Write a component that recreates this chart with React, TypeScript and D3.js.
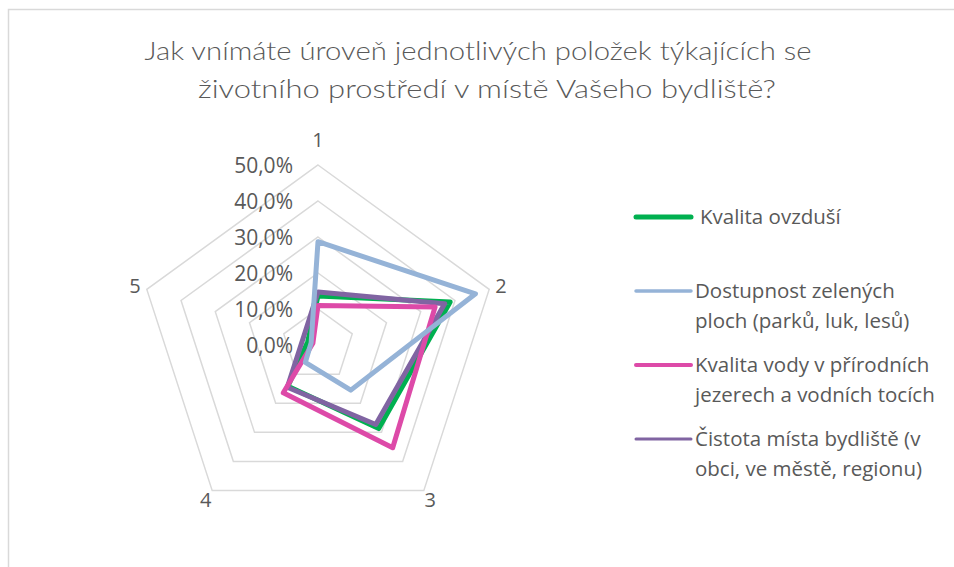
import React from "react";
import * as d3 from "d3";

const axes = ["1", "2", "3", "4", "5"];
const ticks = [0, 0.1, 0.2, 0.3, 0.4, 0.5];

const kvalitaOvzdusi = [0.136, 0.386, 0.287, 0.142, 0.03];
const dostupnostZelene = [0.287, 0.46, 0.155, 0.06, 0.02];
const kvalitaVody = [0.11, 0.342, 0.353, 0.164, 0.015];
const cistotaMista = [0.147, 0.37, 0.273, 0.145, 0.045];

const series = [
  { name: ["Kvalita ovzduší"], values: kvalitaOvzdusi, color: "#00b050", legendWidth: 5 },
  { name: ["Dostupnost zelených", "ploch (parků, luk, lesů)"], values: dostupnostZelene, color: "#95b3d7", legendWidth: 3.5 },
  { name: ["Kvalita vody v přírodních", "jezerech a vodních tocích"], values: kvalitaVody, color: "#dd4aa8", legendWidth: 4 },
  { name: ["Čistota místa bydliště (v", "obci, ve městě, regionu)"], values: cistotaMista, color: "#8064a2", legendWidth: 3 },
];
// draw order (blue sits on top in the original)
const drawOrder = [0, 3, 2, 1];
const legendY = [217, 291, 365, 439];

const font = "'Open Sans', sans-serif";
const grey = "#595959";

export default function App() {
  const cx = 318;
  const cy = 345;
  const r = d3.scaleLinear().domain([0, 0.5]).range([0, 180]);
  const angle = (i: number) => (i * 2 * Math.PI) / axes.length;

  const radial = d3
    .lineRadial<number>()
    .angle((d, i) => angle(i))
    .radius((d) => r(d))
    .curve(d3.curveLinearClosed);

  return (
    <svg
      width={954}
      height={567}
      style={{ position: "absolute", left: 0, top: 0, background: "#fff" }}
      fontFamily={font}
    >
      <rect x={8.5} y={9.5} width={1000} height={700} fill="#fff" stroke="#d9d9d9" strokeWidth={1.5} />

      <g fontFamily="Lato, sans-serif" fontWeight={300} fontSize={26} fill={grey}>
        <text x={478} y={60} textAnchor="middle" textLength={667} lengthAdjust="spacingAndGlyphs">
          Jak vnímáte úroveň jednotlivých položek týkajících se
        </text>
        <text x={487} y={98} textAnchor="middle" textLength={578} lengthAdjust="spacingAndGlyphs">
          životního prostředí v místě Vašeho bydliště?
        </text>
      </g>

      <g transform={`translate(${cx},${cy})`}>
        {ticks.slice(1).map((t) => (
          <path key={t} d={radial(axes.map(() => t)) || ""} fill="none" stroke="#d9d9d9" strokeWidth={1.5} />
        ))}
        {ticks.map((t) => (
          <text key={"l" + t} x={-25} y={-r(t) + 1} dy="0.35em" textAnchor="end" fontSize={21} fill={grey}>
            {(t * 100).toFixed(1).replace(".", ",") + "%"}
          </text>
        ))}
        {axes.map((a, i) => {
          const dx = Math.sin(angle(i));
          const dy = -Math.cos(angle(i));
          const d = 11 + 14 * Math.pow(Math.max(0, -dy), 2);
          const rr = r(0.5) + d;
          return (
            <text key={a} x={dx * rr} y={dy * rr} dy="0.35em" textAnchor="middle" fontSize={20} fill={grey}>
              {a}
            </text>
          );
        })}
        {drawOrder.map((k) => (
          <path
            key={k}
            d={radial(series[k].values) || ""}
            fill="none"
            stroke={series[k].color}
            strokeWidth={5}
            strokeLinejoin="round"
          />
        ))}
      </g>

      {series.map((s, i) => (
        <g key={i}>
          <line
            x1={636}
            x2={691}
            y1={legendY[i]}
            y2={legendY[i]}
            stroke={s.color}
            strokeWidth={s.legendWidth}
            strokeLinecap="round"
          />
          {s.name.map((line, j) => (
            <text key={j} x={i === 0 ? 700 : 695} y={legendY[i] + j * 29.5} dy="0.35em" fontSize={20.5} fill={grey}>
              {line}
            </text>
          ))}
        </g>
      ))}
    </svg>
  );
}
